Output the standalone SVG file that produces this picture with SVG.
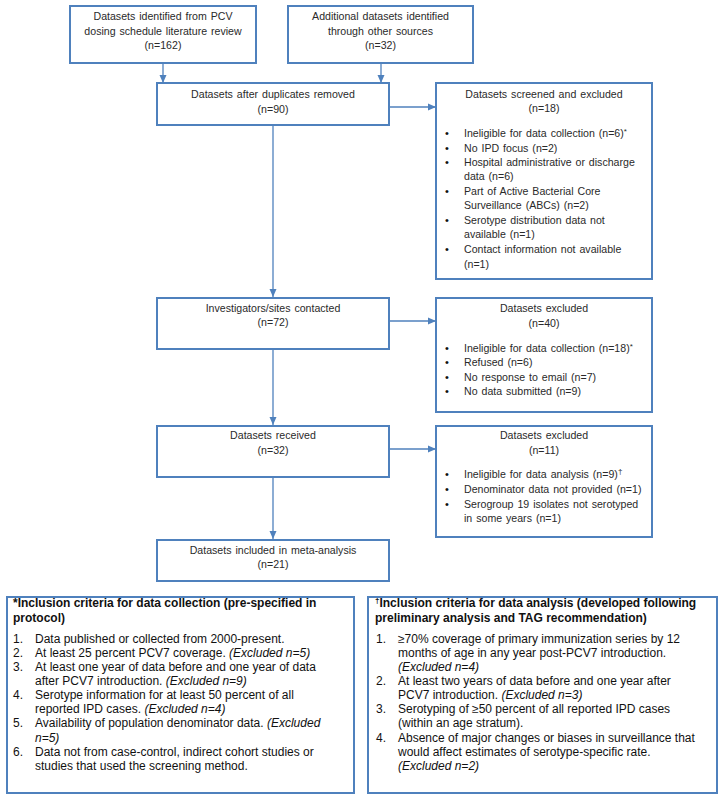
<svg xmlns="http://www.w3.org/2000/svg" width="724" height="800" viewBox="0 0 724 800">
<style>
.box{fill:#fff;stroke:#4F81BD;stroke-width:2}
.ft{font-family:"Liberation Sans",Arial,sans-serif;font-size:10.6px;fill:#2a2a2a;word-spacing:1px}
.c{text-anchor:middle}
.bul{font-family:"Liberation Sans",Arial,sans-serif;font-size:11px;fill:#111}
.nt{font-family:"Liberation Sans",Arial,sans-serif;font-size:12px;fill:#111}
.b{font-weight:bold}
.i{font-style:italic}
.sup{font-size:8px}
.conn{stroke:#4F81BD;stroke-width:1.3;fill:none}
</style>
<defs>
<marker id="ah" markerUnits="userSpaceOnUse" markerWidth="8" markerHeight="8" viewBox="0 0 8 8" refX="8" refY="4" orient="auto">
<path d="M0,0.5 L8,4 L0,7.5 Z" fill="#4F81BD"/>
</marker>
</defs>
<rect width="724" height="800" fill="#fff"/>

<g id="connectors">
<line class="conn" x1="163" y1="64" x2="163" y2="83" marker-end="url(#ah)"/>
<line class="conn" x1="381" y1="64" x2="381" y2="83" marker-end="url(#ah)"/>
<line class="conn" x1="273" y1="126" x2="273" y2="297" marker-end="url(#ah)"/>
<line class="conn" x1="389" y1="107" x2="436" y2="107" marker-end="url(#ah)"/>
<line class="conn" x1="389" y1="321" x2="436" y2="321" marker-end="url(#ah)"/>
<line class="conn" x1="273" y1="350" x2="273" y2="425" marker-end="url(#ah)"/>
<line class="conn" x1="389" y1="449" x2="436" y2="449" marker-end="url(#ah)"/>
<line class="conn" x1="273" y1="478" x2="273" y2="539" marker-end="url(#ah)"/>
</g>

<g id="n1">
<rect class="box" x="70" y="6" width="186" height="57"/>
<text class="ft c" x="163" y="20">Datasets identified from PCV</text>
<text class="ft c" x="163" y="34.5">dosing schedule literature review</text>
<text class="ft c" x="163" y="49">(n=162)</text>
</g>

<g id="n2">
<rect class="box" x="288" y="6" width="185" height="57"/>
<text class="ft c" x="380.5" y="20">Additional datasets identified</text>
<text class="ft c" x="380.5" y="34.5">through other sources</text>
<text class="ft c" x="380.5" y="49">(n=32)</text>
</g>

<g id="n3">
<rect class="box" x="157" y="83" width="232" height="42"/>
<text class="ft c" x="273" y="98">Datasets after duplicates removed</text>
<text class="ft c" x="273" y="113">(n=90)</text>
</g>

<g id="n4">
<rect class="box" x="436" y="83" width="216" height="196"/>
<text class="ft c" x="544" y="98">Datasets screened and excluded</text>
<text class="ft c" x="544" y="112">(n=18)</text>
<text class="bul" x="445" y="137">•</text>
<text class="ft" x="464" y="137">Ineligible for data collection  (n=6)<tspan class="sup" dy="-3">*</tspan></text>
<text class="bul" x="445" y="151.5">•</text>
<text class="ft" x="464" y="151.5">No IPD focus (n=2)</text>
<text class="bul" x="445" y="166">•</text>
<text class="ft" x="464" y="166">Hospital administrative or discharge</text>
<text class="ft" x="464" y="180">data  (n=6)</text>
<text class="bul" x="445" y="195">•</text>
<text class="ft" x="464" y="195">Part of Active Bacterial Core</text>
<text class="ft" x="464" y="209">Surveillance  (ABCs) (n=2)</text>
<text class="bul" x="445" y="224">•</text>
<text class="ft" x="464" y="224">Serotype distribution data not</text>
<text class="ft" x="464" y="238">available  (n=1)</text>
<text class="bul" x="445" y="253">•</text>
<text class="ft" x="464" y="253">Contact information not available</text>
<text class="ft" x="464" y="267.5">(n=1)</text>
</g>

<g id="n5">
<rect class="box" x="157" y="298" width="232" height="51"/>
<text class="ft c" x="273" y="312">Investigators/sites  contacted</text>
<text class="ft c" x="273" y="326">(n=72)</text>
</g>

<g id="n6">
<rect class="box" x="436" y="298" width="216" height="114"/>
<text class="ft c" x="544" y="312">Datasets excluded</text>
<text class="ft c" x="544" y="327">(n=40)</text>
<text class="bul" x="445" y="352">•</text>
<text class="ft" x="464" y="352">Ineligible for data collection (n=18)<tspan class="sup" dy="-3">*</tspan></text>
<text class="bul" x="445" y="366">•</text>
<text class="ft" x="464" y="366">Refused  (n=6)</text>
<text class="bul" x="445" y="381">•</text>
<text class="ft" x="464" y="381">No response to email (n=7)</text>
<text class="bul" x="445" y="395">•</text>
<text class="ft" x="464" y="395">No data submitted (n=9)</text>
</g>

<g id="n7">
<rect class="box" x="157" y="426" width="232" height="51"/>
<text class="ft c" x="273" y="439">Datasets received</text>
<text class="ft c" x="273" y="454">(n=32)</text>
</g>

<g id="n8">
<rect class="box" x="436" y="426" width="216" height="111"/>
<text class="ft c" x="544" y="439">Datasets excluded</text>
<text class="ft c" x="544" y="454">(n=11)</text>
<text class="bul" x="445" y="478">•</text>
<text class="ft" x="464" y="478">Ineligible for data analysis (n=9)<tspan class="sup" dy="-4">†</tspan></text>
<text class="bul" x="445" y="493">•</text>
<text class="ft" x="464" y="493">Denominator  data not provided  (n=1)</text>
<text class="bul" x="445" y="508">•</text>
<text class="ft" x="464" y="508">Serogroup  19 isolates not serotyped</text>
<text class="ft" x="464" y="522">in some years (n=1)</text>
</g>

<g id="n9">
<rect class="box" x="157" y="540" width="232" height="41"/>
<text class="ft c" x="273" y="554">Datasets included  in meta-analysis</text>
<text class="ft c" x="273" y="568">(n=21)</text>
</g>

<g id="note1">
<rect class="box" x="7" y="597" width="347" height="196"/>
<text class="nt b" x="13" y="607">*Inclusion criteria for data collection (pre-specified in</text>
<text class="nt b" x="13" y="622">protocol)</text>
<text class="nt" x="13" y="643">1.</text>
<text class="nt" x="35" y="643">Data published or collected from 2000-present.</text>
<text class="nt" x="13" y="657">2.</text>
<text class="nt" x="35" y="657">At least 25 percent PCV7 coverage. <tspan class="i">(Excluded n=5)</tspan></text>
<text class="nt" x="13" y="671">3.</text>
<text class="nt" x="35" y="671">At least one year of data before and one year of data</text>
<text class="nt" x="35" y="685">after PCV7 introduction. <tspan class="i">(Excluded n=9)</tspan></text>
<text class="nt" x="13" y="699">4.</text>
<text class="nt" x="35" y="699">Serotype information for at least 50 percent of all</text>
<text class="nt" x="35" y="713">reported IPD cases. <tspan class="i">(Excluded n=4)</tspan></text>
<text class="nt" x="13" y="727">5.</text>
<text class="nt" x="35" y="727">Availability of population denominator data. <tspan class="i">(Excluded</tspan></text>
<text class="nt i" x="35" y="742">n=5)</text>
<text class="nt" x="13" y="756">6.</text>
<text class="nt" x="35" y="756">Data not from case-control, indirect cohort studies or</text>
<text class="nt" x="35" y="770">studies that used the screening method.</text>
</g>

<g id="note2">
<rect class="box" x="368" y="597" width="349" height="196"/>
<text class="nt b" x="375" y="607"><tspan class="sup" dy="-4">†</tspan><tspan dy="4">Inclusion criteria for data analysis (developed following</tspan></text>
<text class="nt b" x="375" y="622">preliminary analysis and TAG recommendation)</text>
<text class="nt" x="376" y="643">1.</text>
<text class="nt" x="398" y="643">≥70% coverage of primary immunization series by 12</text>
<text class="nt" x="398" y="657">months of age in any year post-PCV7 introduction.</text>
<text class="nt i" x="398" y="671">(Excluded n=4)</text>
<text class="nt" x="376" y="685">2.</text>
<text class="nt" x="398" y="685">At least two years of data before and one year after</text>
<text class="nt" x="398" y="699">PCV7 introduction. <tspan class="i">(Excluded n=3)</tspan></text>
<text class="nt" x="376" y="713">3.</text>
<text class="nt" x="398" y="713">Serotyping of ≥50 percent of all reported IPD cases</text>
<text class="nt" x="398" y="727">(within an age stratum).</text>
<text class="nt" x="376" y="742">4.</text>
<text class="nt" x="398" y="742">Absence of major changes or biases in surveillance that</text>
<text class="nt" x="398" y="756">would affect estimates of serotype-specific rate.</text>
<text class="nt i" x="398" y="770">(Excluded n=2)</text>
</g>
</svg>
